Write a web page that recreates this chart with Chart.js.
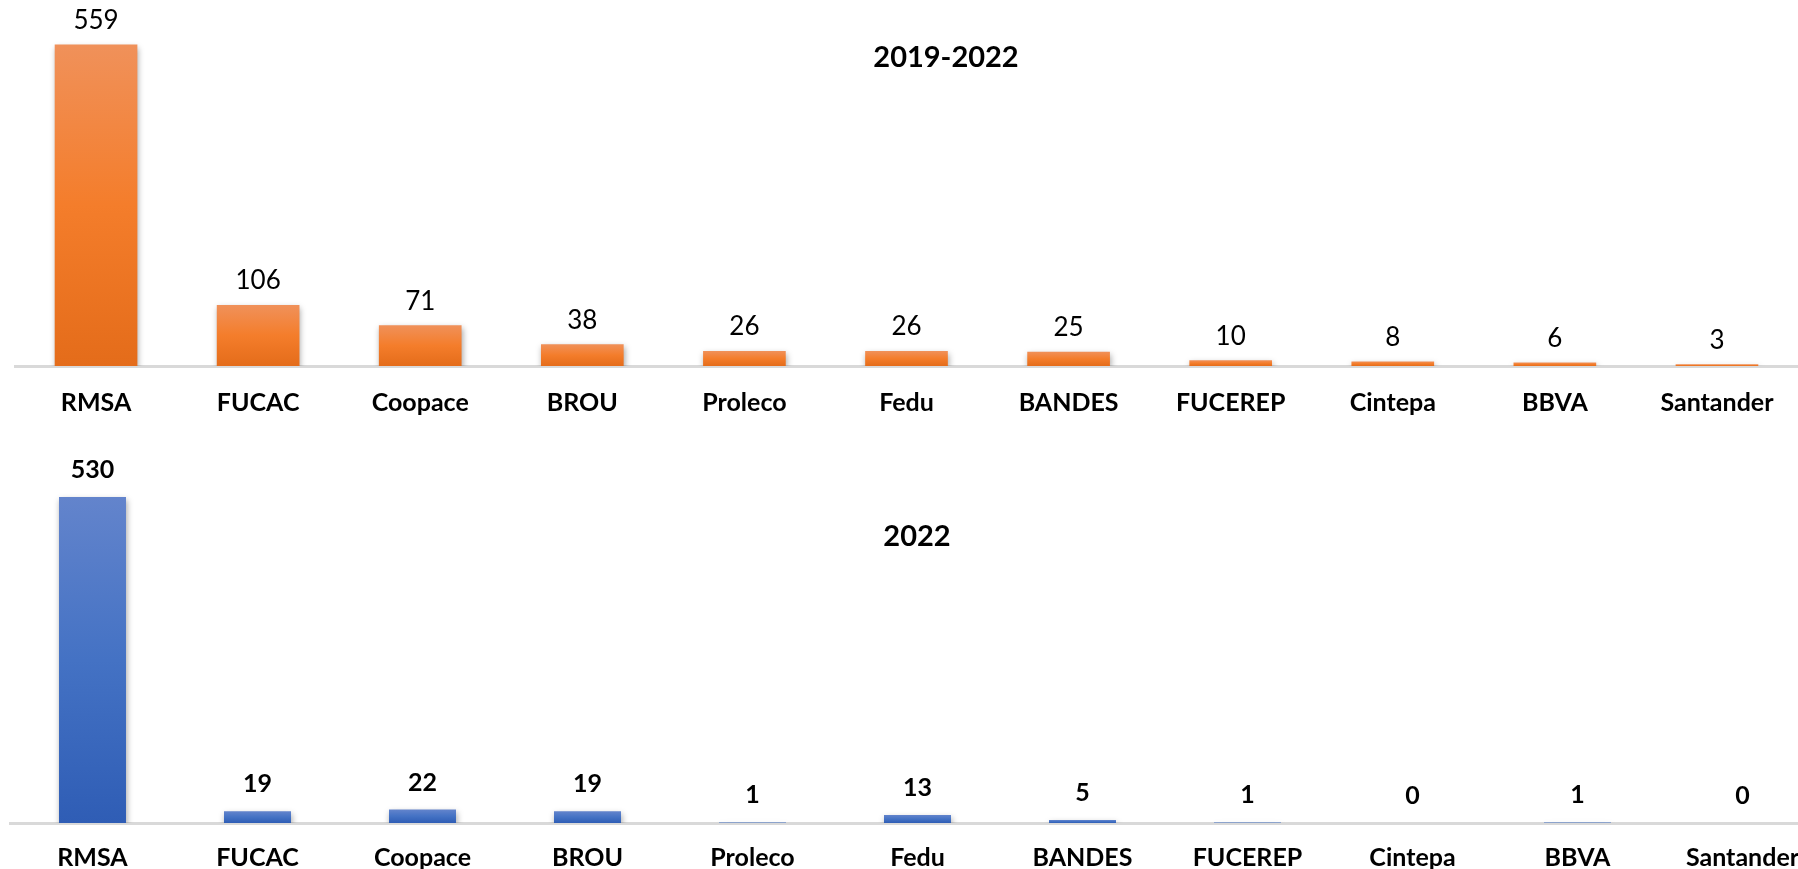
<!DOCTYPE html>
<html>
<head>
<meta charset="utf-8">
<script src="https://cdn.jsdelivr.net/npm/chart.js@4.4.1/dist/chart.umd.min.js"></script>
<style>
  html, body { margin: 0; padding: 0; background: #fff; overflow: hidden; width: 1798px; height: 869px; }
  .box { position: absolute; left: 0; }
  #topBox { top: 0; width: 1798px; height: 434px; }
  #bottomBox { top: 434px; width: 1830px; height: 435px; }
</style>
</head>
<body>
<div id="topBox" class="box"><canvas id="chartTop"></canvas></div>
<div id="bottomBox" class="box"><canvas id="chartBottom"></canvas></div>
<script>
// categories and values
const entidades = ['RMSA', 'FUCAC', 'Coopace', 'BROU', 'Proleco', 'Fedu', 'BANDES', 'FUCEREP', 'Cintepa', 'BBVA', 'Santander']
const total2019_2022 = [559, 106, 71, 38, 26, 26, 25, 10, 8, 6, 3]
const total2022 = [530, 19, 22, 19, 1, 13, 5, 1, 0, 1, 0]

const FONT = 'Lato, "Open Sans", sans-serif'

// gradient per bar, lighter on top like the excel fill
function barGradient(stops, fallback) {
    return (c) => {
        const chart = c.chart
        if (!chart.chartArea || c.type !== 'data') return fallback
        const y = chart.scales.y
        const top = y.getPixelForValue(c.raw)
        const bottom = y.getPixelForValue(0)
        if (bottom - top < 1) return fallback
        const g = chart.ctx.createLinearGradient(0, top, 0, bottom)
        g.addColorStop(0, stops[0])
        g.addColorStop(0.5, stops[1])
        g.addColorStop(1, stops[2])
        return g
    }
}

// soft shadow under the bars
const shadowPlugin = {
    id: 'barShadow',
    beforeDatasetDraw(chart) {
        const ctx = chart.ctx
        ctx.save()
        ctx.shadowColor = 'rgba(0,0,0,0.35)'
        ctx.shadowBlur = 6
        ctx.shadowOffsetX = 1
        ctx.shadowOffsetY = 3
    },
    afterDatasetDraw(chart) {
        chart.ctx.restore()
    }
}

// numbers above the bars and the title inside the plot
const labelsPlugin = {
    id: 'barLabels',
    afterDatasetsDraw(chart, args, opts) {
        const ctx = chart.ctx
        const meta = chart.getDatasetMeta(0)
        const data = chart.data.datasets[0].data
        ctx.save()
        ctx.fillStyle = '#000'
        ctx.textAlign = 'center'
        ctx.textBaseline = 'middle'
        ctx.font = opts.valueFont
        meta.data.forEach((bar, i) => {
            ctx.fillText(String(data[i]), bar.x, bar.y - opts.offset)
        })
        ctx.font = opts.titleFont
        ctx.fillText(opts.title, opts.titleX, opts.titleY)
        ctx.restore()
    }
}

function makeChart(id, values, colors, barPct, pad, labelOpts, tickPad) {
    return new Chart(document.getElementById(id), {
        type: 'bar',
        data: {
            labels: entidades,
            datasets: [{
                data: values,
                backgroundColor: barGradient(colors, colors[1]),
                borderWidth: 0,
                categoryPercentage: 1,
                barPercentage: barPct
            }]
        },
        options: {
            responsive: true,
            maintainAspectRatio: false,
            animation: false,
            layout: { padding: pad },
            scales: {
                x: {
                    grid: { display: false, drawTicks: false },
                    border: { display: true, color: '#d9d9d9', width: 3 },
                    ticks: {
                        color: '#000',
                        autoSkip: false,
                        maxRotation: 0,
                        padding: tickPad,
                        font: { family: FONT, size: 25, weight: 'bold' }
                    }
                },
                y: { display: false, min: 0, max: 600 }
            },
            plugins: {
                legend: { display: false },
                tooltip: { enabled: false },
                barLabels: labelOpts
            }
        },
        plugins: [shadowPlugin, labelsPlugin]
    })
}

makeChart('chartTop', total2019_2022,
    ['#f0915a', '#f47d2b', '#e46c1a'], 0.51,
    { left: 15, right: 0, top: 21, bottom: -6 },
    { valueFont: '26px ' + FONT, offset: 24, title: '2019-2022',
      titleFont: 'bold 29px ' + FONT, titleX: 946, titleY: 58 }, 22)

makeChart('chartBottom', total2022,
    ['#6384cc', '#4472c4', '#2f5db5'], 0.406,
    { left: 10, right: 5, top: 20, bottom: -24 },
    { valueFont: 'bold 25px ' + FONT, offset: 27, title: '2022',
      titleFont: 'bold 29px ' + FONT, titleX: 917, titleY: 103 }, 20)
</script>
</body>
</html>
